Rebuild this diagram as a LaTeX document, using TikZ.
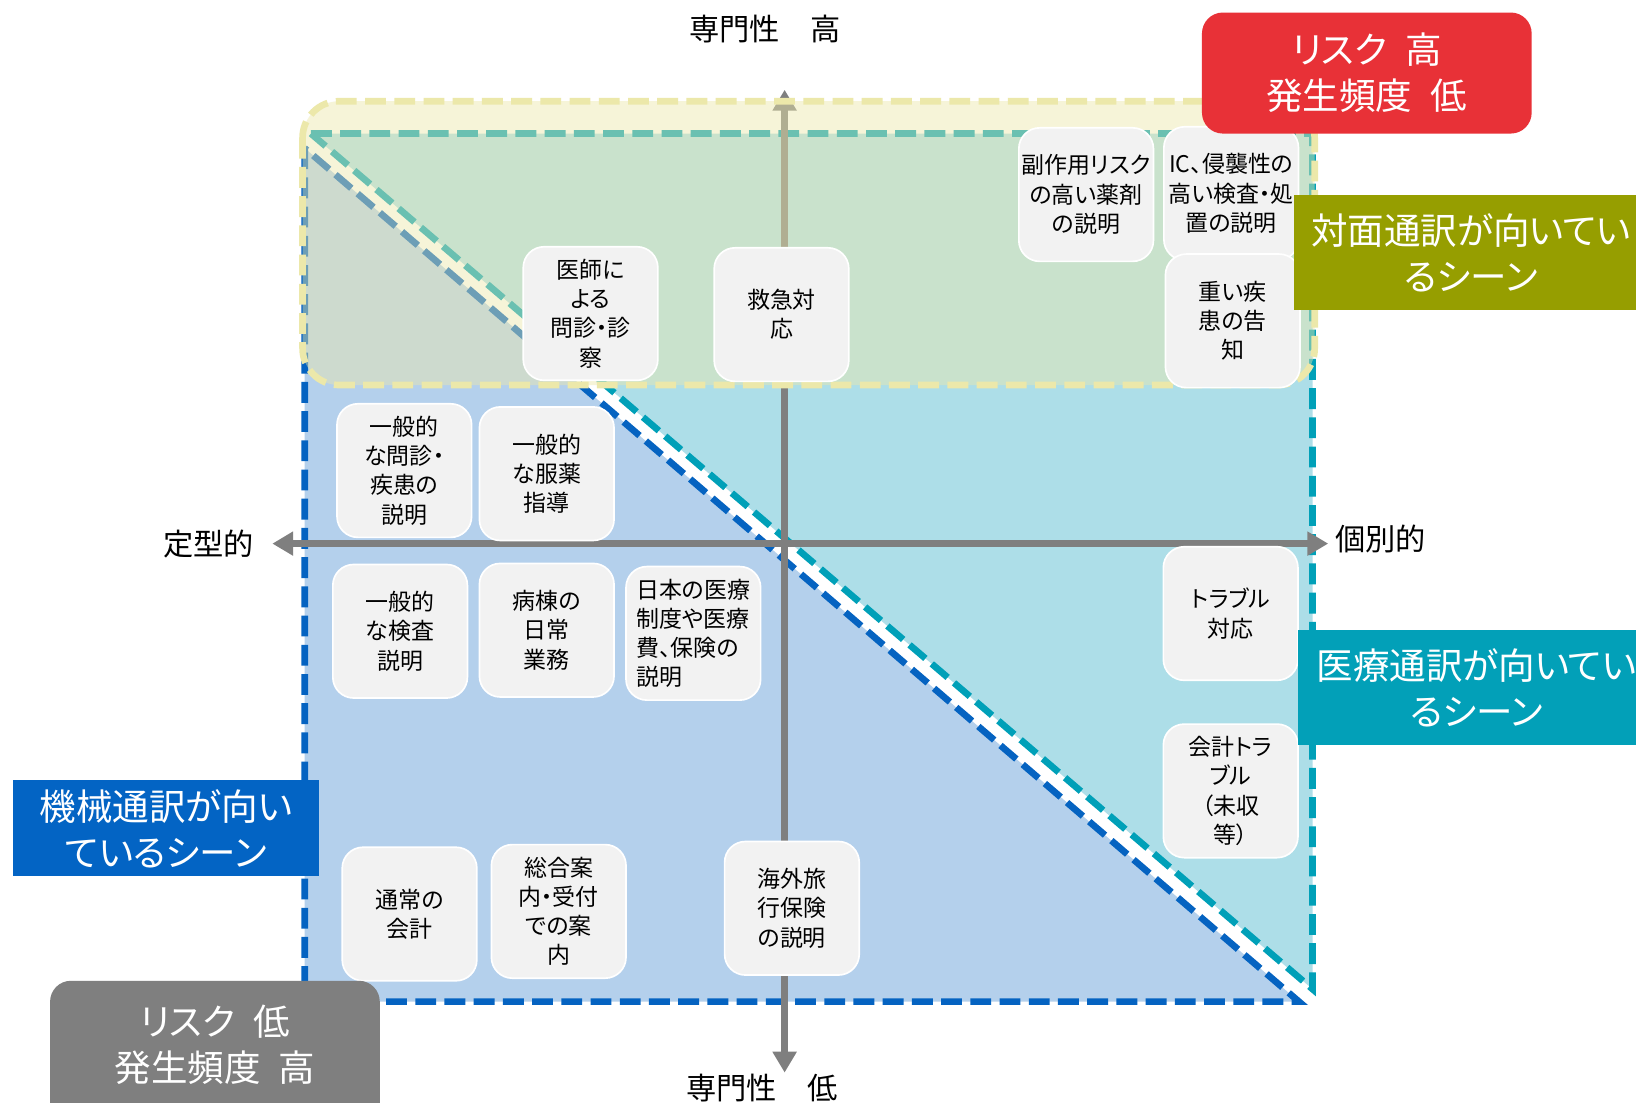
\documentclass[tikz,border=0pt]{standalone}
\usepackage{fontspec}
\setmainfont{Noto Sans CJK JP}[RawFeature=+palt]
\usetikzlibrary{arrows.meta}
\definecolor{tealfill}{RGB}{173,222,232}
\definecolor{bluefill}{RGB}{180,208,236}
\definecolor{tealline}{RGB}{0,160,184}
\definecolor{blueline}{RGB}{5,99,193}
\definecolor{yel}{RGB}{236,232,170}
\definecolor{axisgray}{RGB}{127,127,127}
\definecolor{cellgray}{RGB}{242,242,242}
\definecolor{riskred}{RGB}{232,49,55}
\definecolor{olivebox}{RGB}{150,158,0}
\definecolor{tealbox}{RGB}{2,160,184}
\definecolor{bluebox}{RGB}{3,100,196}
\definecolor{graybox}{RGB}{127,127,127}
\newcommand{\gapsp}{\hspace{0.5em}}
\tikzset{
  zone/.style={line width=3.2pt, dash pattern=on 10pt off 4pt},
  axisline/.style={draw=axisgray, line width=3.2pt, {Triangle[length=10pt,width=11pt]}-{Triangle[length=10pt,width=11pt]}},
  cell/.style={rectangle, rounded corners=10pt, fill=cellgray, draw=white, line width=0.8pt,
    minimum width=64.5pt, minimum height=64pt, align=center, inner sep=0pt,
    font=\fontsize{11}{14}\selectfont},
  lbl/.style={rectangle, inner sep=0pt, align=center, text=white,
    font=\fontsize{17.5}{22}\selectfont},
  axislabel/.style={inner sep=0pt, font=\fontsize{14.5}{17}\selectfont}
}
\begin{document}
\begin{tikzpicture}[x=0.5pt,y=-0.5pt]
\useasboundingbox (0,0) rectangle (1568,1057);
\clip (0,0) rectangle (1568,1057);
\fill[white] (0,0) rectangle (1568,1057);

% medical interpreting zone (teal)
\coordinate (tA) at (298,128);
\coordinate (tB) at (1258,128);
\coordinate (tC) at (1258,948);
\fill[tealfill] (tA) -- (tB) -- (tC) -- cycle;
\draw[zone, tealline] (tA) -- (tB) -- (tC) -- cycle;

% machine interpreting zone (blue)
\coordinate (bD) at (292,142);
\coordinate (bE) at (292,960);
\coordinate (bF) at (1245,960);
\fill[bluefill] (bD) -- (bE) -- (bF) -- cycle;
\draw[zone, blueline] (bD) -- (bE) -- (bF) -- cycle;

% axes
\coordinate (xl) at (261,521);
\coordinate (xr) at (1273,521);
\coordinate (yt) at (752,86);
\coordinate (yb) at (752,1028);
\draw[axisline] (xl) -- (xr);
\draw[axisline] (yb) -- (yt);

% face-to-face zone (yellow overlay)
\fill[yel, fill opacity=0.45, rounded corners=17.5pt] (290,97) rectangle (1260,369);
\draw[zone, yel, rounded corners=17.5pt] (290,97) rectangle (1260,369);

% scene boxes
\node[cell] (c1) at (566,300.5) {医師に\\よる\\問診・診\\察};
\node[cell] (c2) at (749,301.5) {救急対\\応};
\node[cell] (c3) at (1041,186.5) {副作用リスク\\の高い薬剤\\の説明};
\node[cell] (c4) at (1180,185.5) {IC、侵襲性の\\高い検査・処\\置の説明};
\node[cell] (c5) at (1181.5,307.5) {重い疾\\患の告\\知};
\node[cell] (c6) at (387.5,451) {一般的\\な問診・\\疾患の\\説明};
\node[cell] (c7) at (524,454) {一般的\\な服薬\\指導};
\node[cell] (c8) at (383.5,605) {一般的\\な検査\\説明};
\node[cell] (c9) at (524,604) {病棟の\\日常\\業務};
\node[cell, align=left] (c10) at (664.5,607) {日本の医療\\制度や医療\\費、保険の\\説明};
\node[cell] (c11) at (1179.5,588) {トラブル\\対応};
\node[cell] (c12) at (1179.5,758) {会計トラ\\ブル\\（未収\\等）};
\node[cell] (c13) at (392.5,876) {通常の\\会計};
\node[cell] (c14) at (535.5,873.5) {総合案\\内・受付\\での案\\内};
\node[cell] (c15) at (759,870.5) {海外旅\\行保険\\の説明};

% axis labels
\node[axislabel] (top) at (733,28) {専門性　高};
\node[axislabel] (bottom) at (730,1043) {専門性　低};
\node[axislabel] (left) at (200,521) {定型的};
\node[axislabel] (right) at (1323,517) {個別的};

% category labels
\node[lbl, fill=riskred, rounded corners=10pt, minimum width=158pt, minimum height=58pt] (riskHigh) at (1310,70) {リスク\gapsp 高\\発生頻度\gapsp 低};
\node[lbl, fill=olivebox, minimum width=170pt, minimum height=55pt] (faceLabel) at (1410,242) {対面通訳が向いてい\\るシーン};
\node[lbl, fill=tealbox, minimum width=171pt, minimum height=55pt] (medLabel) at (1415,659) {医療通訳が向いてい\\るシーン};
\node[lbl, fill=bluebox, minimum width=147pt, minimum height=46pt] (machLabel) at (159,794) {機械通訳が向い\\ているシーン};
\node[lbl, fill=graybox, rounded corners=10pt, minimum width=158pt, minimum height=70pt] (riskLowBox) at (206,1010) {};
\node[lbl] (riskLow) at (206,1001) {リスク\gapsp 低\\発生頻度\gapsp 高};
\end{tikzpicture}
\end{document}
